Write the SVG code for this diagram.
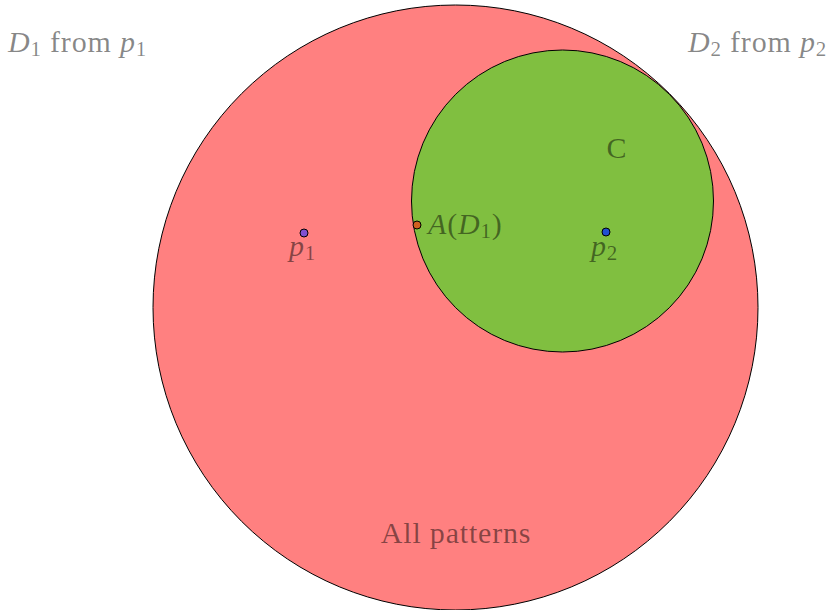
<svg xmlns="http://www.w3.org/2000/svg" width="832" height="610" viewBox="0 0 832 610">
<style>
.t{font-family:"Liberation Serif","DejaVu Serif",serif;font-size:30px;letter-spacing:0.8px;fill:#000;fill-opacity:0.47}
.i{font-style:italic}
.s{font-size:21px}
.dot{stroke:#000;stroke-width:1}
</style>
<rect width="832" height="610" fill="#fff"/>
<g id="all">
<circle cx="455.5" cy="307.5" r="302.5" fill="#ff8080" stroke="#000" stroke-width="1"/>
<text class="t" x="456" y="543" text-anchor="middle">All patterns</text>
</g>
<g id="C">
<circle cx="562.5" cy="201" r="151" fill="#80bf40" stroke="#000" stroke-width="1"/>
<text class="t" x="617" y="158" text-anchor="middle">C</text>
</g>
<g id="p1">
<circle class="dot" cx="304" cy="233" r="4" fill="#8050d0"/>
<text class="t" x="289" y="256"><tspan class="i">p</tspan><tspan class="s" dy="4">1</tspan></text>
</g>
<g id="A">
<circle class="dot" cx="417" cy="225" r="4" fill="#d06020"/>
<text class="t" x="428" y="234"><tspan class="i">A</tspan>(<tspan class="i">D</tspan><tspan class="s" dy="4">1</tspan><tspan dy="-4">)</tspan></text>
</g>
<g id="p2">
<circle class="dot" cx="606" cy="232" r="4" fill="#2050d0"/>
<text class="t" x="591" y="256"><tspan class="i">p</tspan><tspan class="s" dy="4">2</tspan></text>
</g>
<g id="label1">
<text class="t" x="8" y="52"><tspan class="i">D</tspan><tspan class="s" dy="4">1</tspan><tspan dy="-4"> from </tspan><tspan class="i">p</tspan><tspan class="s" dy="4">1</tspan></text>
</g>
<g id="label2">
<text class="t" x="688" y="52"><tspan class="i">D</tspan><tspan class="s" dy="4">2</tspan><tspan dy="-4"> from </tspan><tspan class="i">p</tspan><tspan class="s" dy="4">2</tspan></text>
</g>
<g id="connectors"></g>
</svg>
